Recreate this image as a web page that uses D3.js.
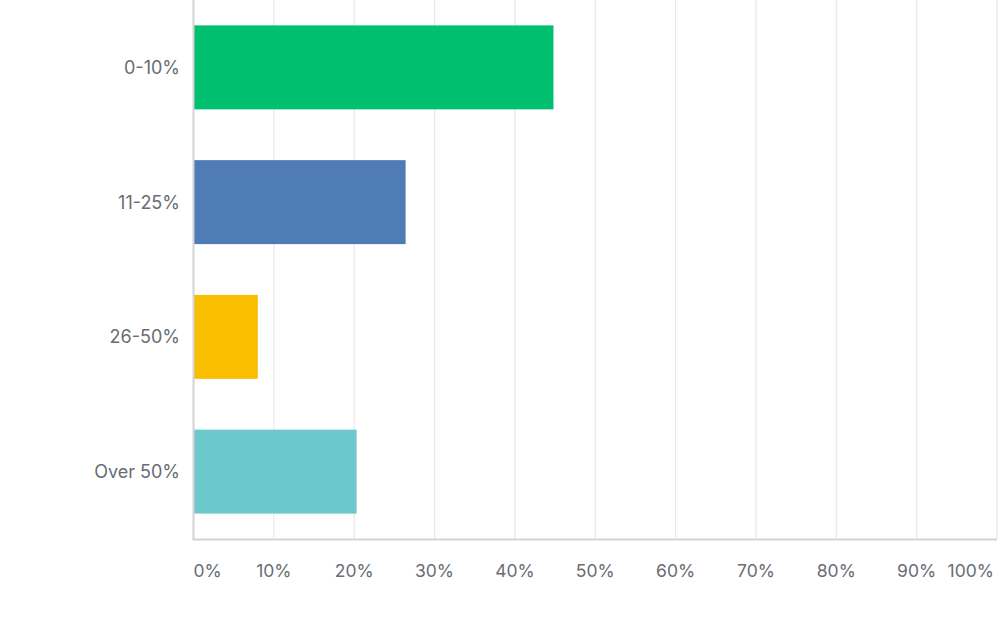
<!DOCTYPE html>
<html><head><meta charset="utf-8">
<script src="https://cdn.jsdelivr.net/npm/d3@7"></script>
<style>
body{margin:0;background:#fff;}
svg{display:block;}
text{font-family:Inter,"Open Sans","DejaVu Sans",sans-serif;fill:#686d74;}
</style></head>
<body>
<script>
const categories = ["0-10%", "11-25%", "26-50%", "Over 50%"];
const values = [44.8, 26.4, 8.0, 20.3];
const colors = ["#00bf6f", "#507cb6", "#f9be00", "#6bc8cd"];
const tickValues = [0,10,20,30,40,50,60,70,80,90,100];
const tickLabels = ["0%","10%","20%","30%","40%","50%","60%","70%","80%","90%","100%"];

const W = 1000, H = 623;
const svg = d3.select("body").append("svg").attr("width", W).attr("height", H);
const x = d3.scaleLinear().domain([0,100]).range([193.5, 997]);
const y = d3.scaleBand().domain(categories).range([0, 539]).paddingInner(0.377).paddingOuter(0.1885);

// gridlines
svg.append("g").selectAll("line").data(tickValues.slice(1)).join("line")
  .attr("x1", d => x(d)).attr("x2", d => x(d)).attr("y1", 0).attr("y2", 539)
  .attr("stroke", "#e8e8e8").attr("stroke-width", 1.2);

// bars
svg.append("g").selectAll("rect").data(categories).join("rect")
  .attr("x", x(0)).attr("y", d => y(d))
  .attr("width", (d,i) => x(values[i]) - x(0))
  .attr("height", y.bandwidth())
  .attr("fill", (d,i) => colors[i]);

// axes lines
svg.append("line").attr("x1", x(0)).attr("x2", x(0)).attr("y1", 0).attr("y2", 540)
  .attr("stroke", "#d3d3d3").attr("stroke-width", 2);
svg.append("line").attr("x1", x(0)-1).attr("x2", x(100)).attr("y1", 539.5).attr("y2", 539.5)
  .attr("stroke", "#d3d3d3").attr("stroke-width", 2);

// category labels
svg.append("g").selectAll("text").data(categories).join("text")
  .attr("x", 180).attr("y", d => y(d) + y.bandwidth()/2)
  .attr("text-anchor", "end").attr("dominant-baseline", "central")
  .attr("font-size", 18).text(d => d);

// tick labels
svg.append("g").selectAll("text").data(tickValues).join("text")
  .attr("x", (d,i) => i === 0 ? x(d) : (i === tickValues.length-1 ? x(d) - 3 : x(d)))
  .attr("y", 570)
  .attr("text-anchor", (d,i) => i === 0 ? "start" : (i === tickValues.length-1 ? "end" : "middle"))
  .attr("dominant-baseline", "central")
  .attr("font-size", 17.5).text((d,i) => tickLabels[i]);
</script>
</body></html>
